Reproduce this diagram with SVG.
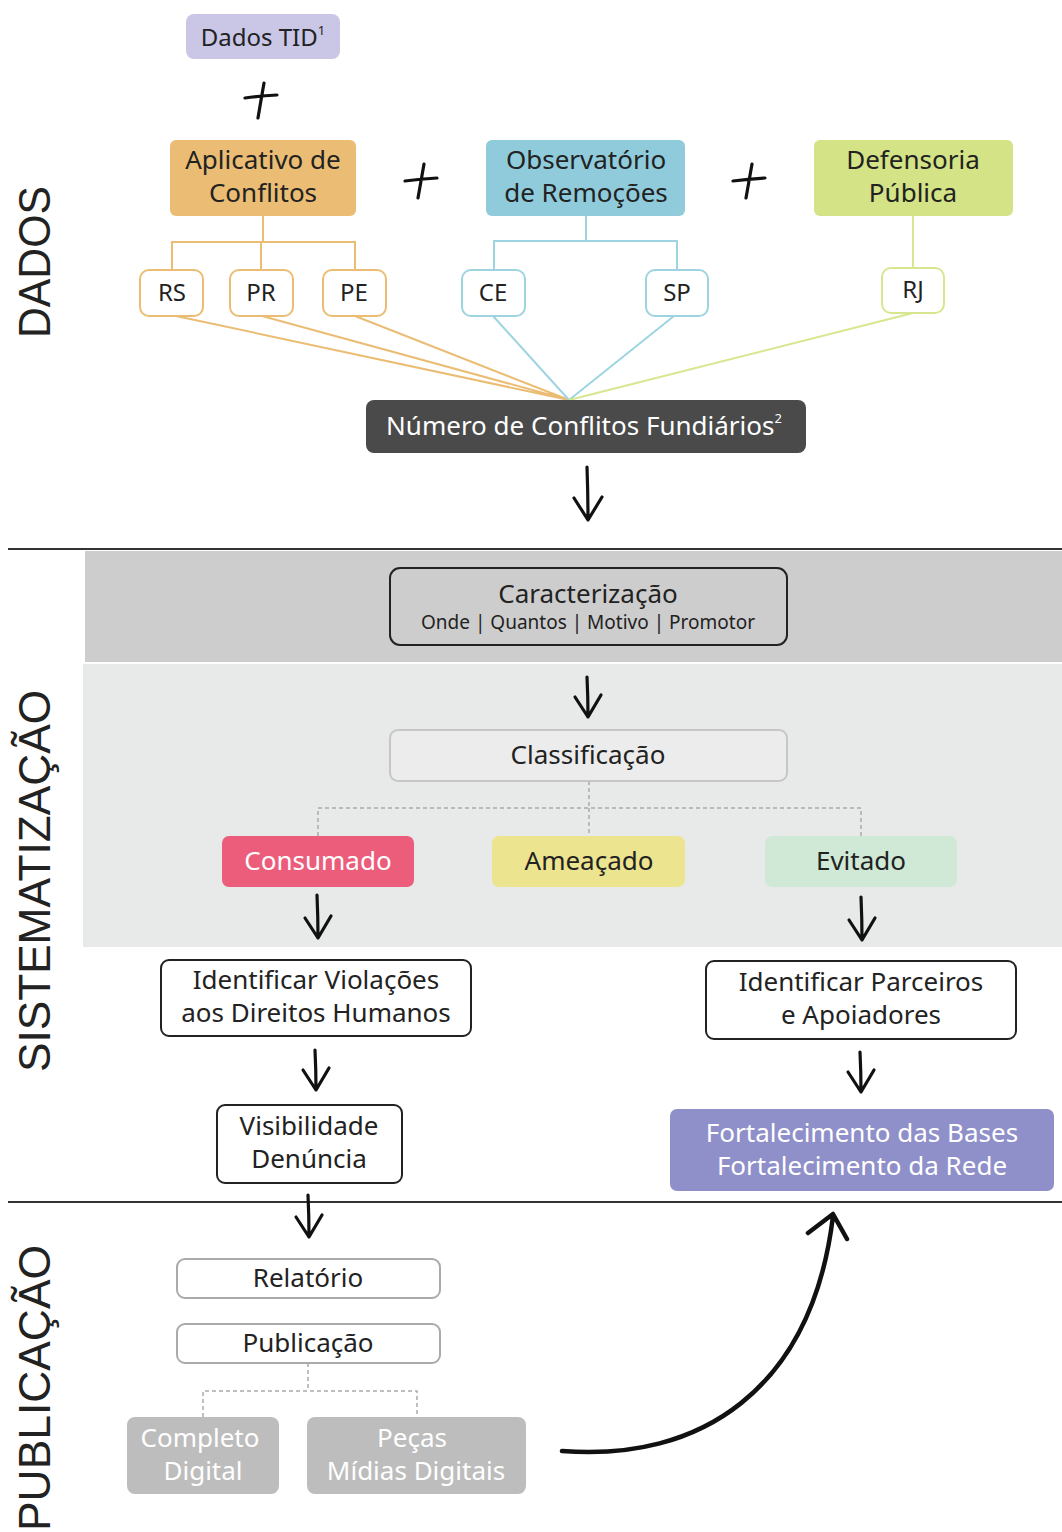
<svg xmlns="http://www.w3.org/2000/svg" width="1062" height="1532" viewBox="0 0 1062 1532">
<style>
text{font-family:"Noto Sans","Open Sans","Liberation Sans",sans-serif;font-size:26px;fill:#222;text-anchor:middle}
text.s{font-size:24px}
text.sub{font-size:19px}
.w{fill:#fff}
.sec{font-family:"Liberation Sans","DejaVu Sans",sans-serif;font-size:44px;fill:#222;font-weight:normal}
.st{fill:#fff;stroke-width:2}
.hand{fill:none;stroke:#111;stroke-width:3.2;stroke-linecap:round;stroke-linejoin:round}
.dot{fill:none;stroke:#aaa;stroke-width:1.5;stroke-dasharray:4 3}
</style>
<rect width="1062" height="1532" fill="#fff"/>
<!-- bands -->
<rect x="85" y="551" width="977" height="111" fill="#cdcdcd"/>
<rect x="83" y="664" width="979" height="283" fill="#e8eaea"/>
<line x1="8" y1="549" x2="1062" y2="549" stroke="#333" stroke-width="2"/>
<line x1="8" y1="1202" x2="1062" y2="1202" stroke="#333" stroke-width="2"/>
<!-- section labels -->
<text class="sec" transform="translate(50,262) rotate(-90)" textLength="152" lengthAdjust="spacingAndGlyphs">DADOS</text>
<text class="sec" transform="translate(50,881) rotate(-90)" textLength="382" lengthAdjust="spacingAndGlyphs">SISTEMATIZAÇÃO</text>
<text class="sec" transform="translate(50,1388) rotate(-90)" textLength="286" lengthAdjust="spacingAndGlyphs">PUBLICAÇÃO</text>
<!-- plus signs -->
<g class="hand" stroke-width="3.5">
<path d="M245 98 Q260 96 277 95 M264 83 Q261 100 258 118"/>
<path d="M405 181 Q420 179 437 178 M424 164 Q421 181 418 198"/>
<path d="M733 181 Q748 179 765 178 M752 164 Q749 181 746 198"/>
</g>
<g id="connectors">
<g fill="none" stroke-width="2">
<path d="M263 216 V242 M172 270 V242 H355 V270 M261 242 V270" stroke="#ebbd74"/>
<path d="M586 216 V241 M494 270 V241 H677 V270" stroke="#9dd4e0"/>
<path d="M913 216 V268" stroke="#d6e78f"/>
<path d="M176 316 L569 400 M262 316 L569 400 M355 316 L569 400" stroke="#ebbd74"/>
<path d="M493 316 L569 400 M674 316 L569 400" stroke="#9dd4e0"/>
<path d="M913 313 L569 400" stroke="#d6e78f"/>
</g>
<path class="dot" d="M589 781 V808 M318 836 V808 H861 V836 M589 808 V836"/>
<path class="dot" d="M308 1363 V1391 M203 1417 V1391 H417 V1417"/>
<g class="hand">
<path d="M587 467 Q588 495 588 520 M574 498 L588 520 L602 497"/>
<path d="M587 677 Q588 697 588 717 M575 697 L588 717 L601 695"/>
<path d="M317 895 Q318 917 318 938 M305 918 L318 938 L331 916"/>
<path d="M861 897 Q862 919 862 940 M849 920 L862 940 L875 918"/>
<path d="M315 1050 Q316 1070 316 1090 M303 1070 L316 1090 L329 1068"/>
<path d="M860 1052 Q861 1072 861 1092 M848 1072 L861 1092 L874 1070"/>
<path d="M308 1195 Q309 1216 309 1237 M296 1217 L309 1237 L322 1215"/>
<path d="M562 1451 C700 1462 812 1390 833 1216 M808 1233 L833 1214 L847 1239" stroke-width="4.5"/>
</g>
</g>
<!-- nodes -->
<g id="dados-tid"><rect x="186" y="14" width="154" height="45" rx="8" fill="#c9c6e6"/><text x="263" y="46" class="s">Dados TID<tspan font-size="13" dy="-11">1</tspan></text></g>
<g id="aplicativo"><rect x="170" y="140" width="186" height="76" rx="6" fill="#ebbd74"/><text x="263" y="169">Aplicativo de</text><text x="263" y="202">Conflitos</text></g>
<g id="observatorio"><rect x="486" y="140" width="199" height="76" rx="6" fill="#8fcbdb"/><text x="586" y="169">Observatório</text><text x="586" y="202">de Remoções</text></g>
<g id="defensoria"><rect x="814" y="140" width="199" height="76" rx="6" fill="#d3e385"/><text x="913" y="169">Defensoria</text><text x="913" y="202">Pública</text></g>
<g id="rs"><rect x="140" y="270" width="63" height="46" rx="9" class="st" stroke="#ebbd74"/><text x="172" y="301" class="s">RS</text></g>
<g id="pr"><rect x="230" y="270" width="63" height="46" rx="9" class="st" stroke="#ebbd74"/><text x="261" y="301" class="s">PR</text></g>
<g id="pe"><rect x="323" y="270" width="63" height="46" rx="9" class="st" stroke="#ebbd74"/><text x="354" y="301" class="s">PE</text></g>
<g id="ce"><rect x="462" y="270" width="63" height="46" rx="9" class="st" stroke="#9dd4e0"/><text x="493" y="301" class="s">CE</text></g>
<g id="sp"><rect x="646" y="270" width="62" height="46" rx="9" class="st" stroke="#9dd4e0"/><text x="677" y="301" class="s">SP</text></g>
<g id="rj"><rect x="882" y="268" width="62" height="45" rx="9" class="st" stroke="#d6e78f"/><text x="913" y="298" class="s">RJ</text></g>
<g id="numero"><rect x="366" y="400" width="440" height="53" rx="8" fill="#4a4a4a"/><text x="584" y="435" class="w">Número de Conflitos Fundiários<tspan font-size="13" dy="-12">2</tspan></text></g>
<g id="caracterizacao"><rect x="390" y="568" width="397" height="77" rx="10" fill="none" stroke="#222" stroke-width="2"/><text x="588" y="603">Caracterização</text><text x="588" y="629" class="sub">Onde | Quantos | Motivo | Promotor</text></g>
<g id="classificacao"><rect x="390" y="730" width="397" height="51" rx="8" fill="#ececec" stroke="#c6c6c6" stroke-width="2"/><text x="588" y="764">Classificação</text></g>
<g id="consumado"><rect x="222" y="836" width="192" height="51" rx="7" fill="#ec5d7b"/><text x="318" y="870" class="w">Consumado</text></g>
<g id="ameacado"><rect x="492" y="836" width="193" height="51" rx="7" fill="#ece48e"/><text x="589" y="870">Ameaçado</text></g>
<g id="evitado"><rect x="765" y="836" width="192" height="51" rx="7" fill="#cfe9d6"/><text x="861" y="870">Evitado</text></g>
<g id="violacoes"><rect x="161" y="960" width="310" height="76" rx="8" class="st" stroke="#222"/><text x="316" y="989">Identificar Violações</text><text x="316" y="1022">aos Direitos Humanos</text></g>
<g id="parceiros"><rect x="706" y="961" width="310" height="78" rx="8" class="st" stroke="#222"/><text x="861" y="991">Identificar Parceiros</text><text x="861" y="1024">e Apoiadores</text></g>
<g id="visibilidade"><rect x="217" y="1105" width="185" height="78" rx="8" class="st" stroke="#222"/><text x="309" y="1135">Visibilidade</text><text x="309" y="1168">Denúncia</text></g>
<g id="fortalecimento"><rect x="670" y="1109" width="384" height="82" rx="7" fill="#8f90c9"/><text x="862" y="1142" class="w">Fortalecimento das Bases</text><text x="862" y="1175" class="w">Fortalecimento da Rede</text></g>
<g id="relatorio"><rect x="177" y="1259" width="263" height="39" rx="8" class="st" stroke="#aaa"/><text x="308" y="1287">Relatório</text></g>
<g id="publicacao"><rect x="177" y="1324" width="263" height="39" rx="8" class="st" stroke="#aaa"/><text x="308" y="1352">Publicação</text></g>
<g id="completo"><rect x="127" y="1417" width="152" height="77" rx="8" fill="#bdbdbd"/><text x="200" y="1447" class="w">Completo</text><text x="203" y="1480" class="w">Digital</text></g>
<g id="pecas"><rect x="307" y="1417" width="219" height="77" rx="8" fill="#bdbdbd"/><text x="412" y="1447" class="w">Peças</text><text x="416" y="1480" class="w">Mídias Digitais</text></g>
</svg>
